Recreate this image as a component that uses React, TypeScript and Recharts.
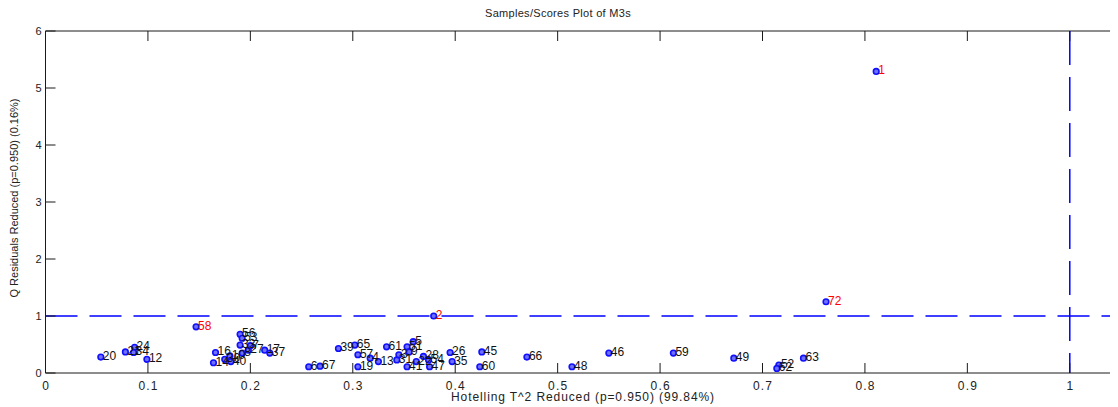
import React from 'react';
import { ScatterChart, Scatter, XAxis, YAxis, ReferenceLine } from 'recharts';

// ---- data ----
const sampleLabels = [
  '1', '72', '58', '2', '20', '21', '24', '34', '12',
  '16', '14', '30', '40', '10', '56', '53', '33', '8', '27', '7', '17', '37',
  '6', '67', '39', '65', '57', '19', '4', '13', '61', '31', '3', '51', '9', '5',
  '41', '22', '28', '47', '54', '26', '35', '60', '45', '66', '48', '46', '59',
  '49', '52', '62', '63',
];
const hotellingT2 = [
  0.811, 0.762, 0.147, 0.379, 0.054, 0.078, 0.087, 0.086, 0.099,
  0.166, 0.164, 0.175, 0.181, 0.18, 0.19, 0.192, 0.19, 0.192, 0.198, 0.2, 0.214, 0.219,
  0.257, 0.268, 0.286, 0.302, 0.305, 0.305, 0.317, 0.325, 0.333, 0.343, 0.345, 0.353, 0.355, 0.359,
  0.353, 0.362, 0.369, 0.375, 0.374, 0.395, 0.397, 0.424, 0.426, 0.47, 0.514, 0.55, 0.613,
  0.672, 0.716, 0.714, 0.74,
];
const qResiduals = [
  5.29, 1.25, 0.81, 1.0, 0.28, 0.37, 0.45, 0.36, 0.24,
  0.36, 0.18, 0.24, 0.2, 0.3, 0.68, 0.61, 0.49, 0.35, 0.4, 0.48, 0.4, 0.35,
  0.11, 0.12, 0.43, 0.49, 0.32, 0.11, 0.26, 0.2, 0.46, 0.23, 0.32, 0.46, 0.37, 0.55,
  0.11, 0.2, 0.29, 0.11, 0.23, 0.36, 0.2, 0.11, 0.37, 0.28, 0.11, 0.35, 0.35,
  0.26, 0.14, 0.08, 0.26,
];
const outlierLabels = ['1', '72', '58', '2'];

const xTicks = [0, 0.1, 0.2, 0.3, 0.4, 0.5, 0.6, 0.7, 0.8, 0.9, 1.0];
const xTickLabels = ['0', '0.1', '0.2', '0.3', '0.4', '0.5', '0.6', '0.7', '0.8', '0.9', '1'];
const yTicks = [0, 1, 2, 3, 4, 5, 6];
const xDomain: [number, number] = [0, 1.05];
const yDomain: [number, number] = [0, 6];
const t2Limit = 1;
const qLimit = 1;

const title = 'Samples/Scores Plot of M3s';
const xLabel = 'Hotelling T^2 Reduced (p=0.950) (99.84%)';
const yLabel = 'Q Residuals Reduced (p=0.950) (0.16%)';

const points = sampleLabels.map((id, i) => ({
  id,
  t2: hotellingT2[i],
  q: qResiduals[i],
  outlier: outlierLabels.includes(id),
}));

// ---- layout ----
const W = 1125;
const H = 399;
const MARGIN = { top: 23, right: 12, left: 0, bottom: 0 };
const Y_AXIS_W = 37.5;
const X_AXIS_H = 34;
const PLOT_LEFT = MARGIN.left + Y_AXIS_W;
const PLOT_RIGHT = W - MARGIN.right;
const PLOT_TOP = MARGIN.top;
const PLOT_BOTTOM = H - X_AXIS_H;
const FONT = 'Arial, "Liberation Sans", Helvetica, sans-serif';
const AXIS_COLOR = '#1a1a1a';
const BLUE = '#0000ff';

const XTick = (props: any) => {
  const { x, payload } = props;
  const label = xTickLabels[xTicks.indexOf(payload.value)] ?? String(payload.value);
  return (
    <g>
      <line x1={x} x2={x} y1={PLOT_BOTTOM} y2={PLOT_BOTTOM - 10} stroke={AXIS_COLOR} strokeWidth={1} />
      <line x1={x} x2={x} y1={PLOT_TOP} y2={PLOT_TOP + 10} stroke={AXIS_COLOR} strokeWidth={1} />
      <text
        x={x + 0.6}
        y={PLOT_BOTTOM + 17}
        textAnchor="middle"
        fontSize={12}
        letterSpacing={1.2}
        fill="#222"
        fontFamily={FONT}
      >
        {label}
      </text>
    </g>
  );
};

const YTick = (props: any) => {
  const { y, payload } = props;
  return (
    <g>
      <line x1={PLOT_LEFT} x2={PLOT_LEFT + 10} y1={y} y2={y} stroke={AXIS_COLOR} strokeWidth={1} />
      <line x1={PLOT_RIGHT} x2={PLOT_RIGHT - 10} y1={y} y2={y} stroke={AXIS_COLOR} strokeWidth={1} />
      <text x={PLOT_LEFT - 4} y={y + 4} textAnchor="end" fontSize={11} fill="#222" fontFamily={FONT}>
        {payload.value}
      </text>
    </g>
  );
};

const Marker = (props: any) => {
  const { cx, cy } = props;
  if (cx == null || cy == null) return null;
  return <circle cx={cx} cy={cy} r={2.8} fill="#7070ff" stroke="#1010ff" strokeWidth={1.6} />;
};

const PointLabel = (props: any) => {
  const { cx, cy, payload } = props;
  if (cx == null || cy == null) return null;
  return (
    <text x={cx + 2} y={cy + 3} fontSize={12} fill={payload.outlier ? '#ff0000' : '#111'} fontFamily={FONT}>
      {payload.id}
    </text>
  );
};

export default function App() {
  return (
    <div style={{ width: 1110, height: H, overflow: 'hidden', background: '#fff' }}>
      <ScatterChart width={W} height={H} margin={MARGIN}>
        <XAxis
          type="number"
          dataKey="t2"
          domain={xDomain}
          allowDataOverflow
          ticks={xTicks}
          interval={0}
          tickLine={false}
          tickSize={0}
          height={X_AXIS_H}
          axisLine={{ stroke: AXIS_COLOR, strokeWidth: 1 }}
          tick={<XTick />}
        />
        <YAxis
          type="number"
          dataKey="q"
          domain={yDomain}
          allowDataOverflow
          ticks={yTicks}
          interval={0}
          tickLine={false}
          tickSize={0}
          width={Y_AXIS_W}
          axisLine={{ stroke: AXIS_COLOR, strokeWidth: 1 }}
          tick={<YTick />}
        />
        <ReferenceLine y={6} stroke={AXIS_COLOR} strokeWidth={1} />
        <ReferenceLine x={1.05} stroke={AXIS_COLOR} strokeWidth={1} />
        <ReferenceLine
          segment={[{ x: 0, y: qLimit }, { x: 1.05, y: qLimit }]}
          stroke={BLUE}
          strokeWidth={1.5}
          strokeDasharray="32 12"
        />
        <ReferenceLine
          segment={[{ x: t2Limit, y: 6 }, { x: t2Limit, y: 0 }]}
          stroke={BLUE}
          strokeWidth={1.5}
          strokeDasharray="34 12"
        />
        <Scatter data={points} shape={<Marker />} isAnimationActive={false} />
        <Scatter data={points} shape={<PointLabel />} isAnimationActive={false} />
        <text x={550} y={9} textAnchor="middle" fontSize={11} letterSpacing={0.3} fill="#222" fontFamily={FONT}>
          {title}
        </text>
        <text x={575} y={393} textAnchor="middle" fontSize={12} letterSpacing={0.9} fill="#222" fontFamily={FONT}>
          {xLabel}
        </text>
        <text
          x={10}
          y={190}
          transform="rotate(-90 10 190)"
          textAnchor="middle"
          fontSize={11}
          fill="#222"
          fontFamily={FONT}
        >
          {yLabel}
        </text>
      </ScatterChart>
    </div>
  );
}
